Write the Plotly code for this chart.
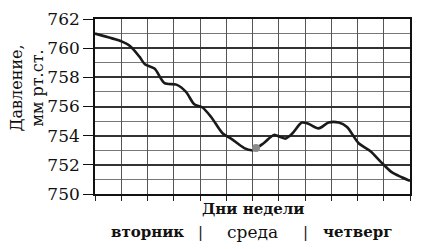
import plotly.graph_objects as go

# hours since start of Tuesday
hours = [0, 6.2, 8.0, 10.2, 11.4, 13.6, 15.9, 18.6, 20.8, 22.7, 24.5, 26.5, 29.2, 31.1,
         34.1, 36.0, 38.6, 40.9, 42.4, 43.6, 45.1, 47.3, 48.9, 51.1, 53.4, 55.7, 57.6,
         60.2, 62.9, 65.5, 67.8, 70.1, 72.0]
pressure = [761.0, 760.45, 760.15, 759.4, 758.9, 758.6, 757.6, 757.5, 757.0, 756.15, 755.95,
            755.3, 754.15, 753.8, 753.15, 753.0, 753.5, 754.05, 753.9, 753.8, 754.15, 754.9,
            754.8, 754.5, 754.9, 754.9, 754.6, 753.5, 752.95, 752.15, 751.5, 751.15, 750.9]
dot_hour = [36.8]
dot_value = [753.15]

days = ["вторник", "среда", "четверг"]
day_centers = [12, 36, 60]
day_separators = [24, 48]
y_ticks = [750, 752, 754, 756, 758, 760, 762]

serif = "DejaVu Serif"

fig = go.Figure()
fig.add_trace(go.Scatter(x=hours, y=pressure, mode="lines",
                         line=dict(color="#1a1a1a", width=2.6, shape="spline", smoothing=0.8),
                         hoverinfo="skip"))
fig.add_trace(go.Scatter(x=dot_hour, y=dot_value, mode="markers",
                         marker=dict(color="#8a8a8a", size=8), hoverinfo="skip"))

annotations = [
    dict(text="Давление,<br>мм рт.ст.", textangle=-90, xref="paper", yref="paper",
         x=(27 - 95) / 317, y=(194 - 85) / 180, xanchor="center", yanchor="middle",
         showarrow=False, font=dict(family=serif, size=16, color="#111")),
    dict(text="<b>Дни недели</b>", xref="x", yref="paper", x=36, y=(194 - 209) / 180,
         xanchor="center", yanchor="middle", showarrow=False,
         font=dict(family=serif, size=15, color="#111")),
]
for d, c in zip(days, day_centers):
    if d == "среда":
        txt, sz = d, 17
    else:
        txt, sz = "<b>" + d + "</b>", 15
    annotations.append(dict(text=txt, xref="x", yref="paper", x=c, y=(194 - 233) / 180,
                            xanchor="center", yanchor="middle", showarrow=False,
                            font=dict(family=serif, size=sz, color="#111")))
for s in day_separators:
    annotations.append(dict(text="|", xref="x", yref="paper", x=s, y=(194 - 233) / 180,
                            xanchor="center", yanchor="middle", showarrow=False,
                            font=dict(family=serif, size=15, color="#111")))

fig.update_layout(
    width=421, height=249,
    margin=dict(l=95, r=9, t=14, b=55),
    paper_bgcolor="white", plot_bgcolor="white",
    showlegend=False,
    annotations=annotations,
    xaxis=dict(range=[0, 72], tickvals=list(range(0, 73, 6)), ticks="outside", ticklen=5,
               tickcolor="#222", tickwidth=1, showticklabels=False,
               showgrid=True, gridcolor="#555", gridwidth=1, zeroline=False,
               showline=True, linecolor="#111", linewidth=1.6, mirror=True, fixedrange=True),
    yaxis=dict(range=[750, 762], tickvals=y_ticks, ticks="outside", ticklen=10,
               tickcolor="#111", tickwidth=1.4,
               tickfont=dict(family=serif, size=17, color="#111"),
               showgrid=True, gridcolor="#333", gridwidth=1.5, zeroline=False,
               showline=True, linecolor="#111", linewidth=1.6, mirror=True,
               minor=dict(dtick=1, tick0=750, showgrid=True, gridcolor="#777", gridwidth=0.8,
                          ticks=""),
               fixedrange=True),
)

fig.write_html("out.html")
